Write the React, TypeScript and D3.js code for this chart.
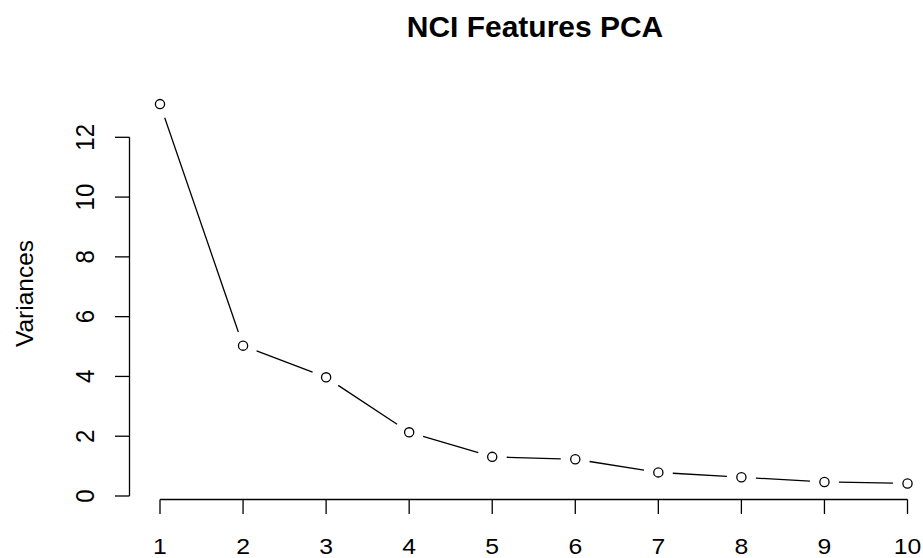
import React from "react";
import * as d3 from "d3";

// Scree plot data: principal component index and its variance
const components = [1, 2, 3, 4, 5, 6, 7, 8, 9, 10];
const variances = [13.11, 5.03, 3.97, 2.13, 1.31, 1.23, 0.79, 0.625, 0.47, 0.42];
const yTicks = [0, 2, 4, 6, 8, 10, 12];
const xTicks = [1, 2, 3, 4, 5, 6, 7, 8, 9, 10];
const title = "NCI Features PCA";
const yLabel = "Variances";

const W = 923;
const H = 558;
const FONT = "'Liberation Sans', Arial, sans-serif";
const GAP = 14.5; // gap between line segments and point markers

export default function App() {
  const x = d3.scaleLinear().domain([1, 10]).range([160, 907.5]);
  const y = d3.scaleLinear().domain([0, 12]).range([496, 137.3]);

  const axisX = 129.5;
  const axisY = 499.5;
  const tickLen = 14.5;

  const pts = components.map((c, i) => [x(c), y(variances[i])] as [number, number]);

  const segments = pts.slice(0, -1).map((p, i) => {
    const q = pts[i + 1];
    const dx = q[0] - p[0];
    const dy = q[1] - p[1];
    const len = Math.hypot(dx, dy);
    const ux = dx / len;
    const uy = dy / len;
    return {
      x1: p[0] + ux * GAP,
      y1: p[1] + uy * GAP,
      x2: q[0] - ux * GAP,
      y2: q[1] - uy * GAP,
    };
  });

  return (
    <svg
      width={W}
      height={H}
      style={{ position: "absolute", left: 0, top: 0, background: "#fff" }}
      fontFamily={FONT}
    >
      <rect width={W} height={H} fill="#fff" />
      <text
        transform={`translate(535,37.3) scale(1.04,1)`}
        textAnchor="middle"
        fontSize={28.8}
        fontWeight="bold"
        fill="#000"
      >
        {title}
      </text>

      {/* y axis */}
      <line x1={axisX} x2={axisX} y1={y(0)} y2={y(12)} stroke="#000" strokeWidth={1.3} />
      {yTicks.map((t) => (
        <g key={`y${t}`}>
          <line x1={axisX - tickLen} x2={axisX} y1={y(t)} y2={y(t)} stroke="#000" strokeWidth={1.3} />
          <text
            transform={`translate(${93.5},${y(t)}) rotate(-90) scale(1,1.05)`}
            textAnchor="middle"
            fontSize={24}
            fill="#000"
          >
            {t}
          </text>
        </g>
      ))}
      <text
        transform={`translate(${33},${293.5}) rotate(-90) scale(1,0.95)`}
        textAnchor="middle"
        fontSize={24.5}
        fill="#000"
      >
        {yLabel}
      </text>

      {/* x axis */}
      <line x1={x(1)} x2={x(10)} y1={axisY} y2={axisY} stroke="#000" strokeWidth={1.3} />
      {xTicks.map((t) => (
        <g key={`x${t}`}>
          <line x1={x(t)} x2={x(t)} y1={axisY} y2={axisY + tickLen} stroke="#000" strokeWidth={1.3} />
          <text
            transform={`translate(${x(t)},554) scale(1.1,1)`}
            textAnchor="middle"
            fontSize={22.5}
            fill="#000"
          >
            {t}
          </text>
        </g>
      ))}

      {/* line segments with gaps around points */}
      {segments.map((s, i) => (
        <line key={`s${i}`} {...s} stroke="#000" strokeWidth={1.3} />
      ))}
      {pts.map((p, i) => (
        <circle key={`p${i}`} cx={p[0]} cy={p[1]} r={4.6} fill="none" stroke="#000" strokeWidth={1.3} />
      ))}
    </svg>
  );
}
